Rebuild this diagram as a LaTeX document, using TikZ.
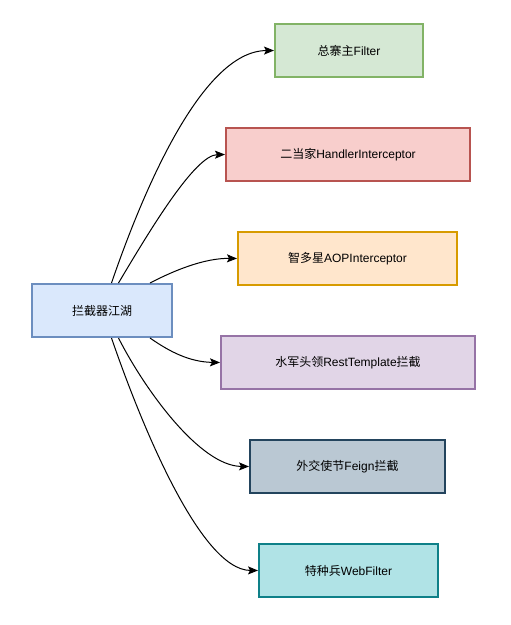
\documentclass[tikz,border=0pt]{standalone}
\usepackage{fontspec}
\setmainfont{Liberation Sans}
\newfontfamily\cjk{Noto Sans CJK SC}
\usetikzlibrary{arrows.meta}
\definecolor{bluef}{HTML}{DAE8FC}\definecolor{blued}{HTML}{6C8EBF}
\definecolor{greenf}{HTML}{D5E8D4}\definecolor{greend}{HTML}{82B366}
\definecolor{redf}{HTML}{F8CECC}\definecolor{redd}{HTML}{B85450}
\definecolor{orangef}{HTML}{FFE6CC}\definecolor{oranged}{HTML}{D79B00}
\definecolor{purplef}{HTML}{E1D5E7}\definecolor{purpled}{HTML}{9673A6}
\definecolor{slatef}{HTML}{BAC8D3}\definecolor{slated}{HTML}{23445D}
\definecolor{tealf}{HTML}{B0E3E6}\definecolor{teald}{HTML}{0E8088}
\begin{document}
\begin{tikzpicture}[x=1pt,y=-1pt,
  box/.style={draw, line width=2pt, minimum height=53pt, inner sep=0pt, font=\fontsize{12}{14}\selectfont},
  conn/.style={line width=1pt, -{Stealth[length=10pt,width=8pt,inset=2pt]}}]
\useasboundingbox (0,0) rectangle (511,625);
\node[box, fill=bluef, draw=blued, minimum width=140pt] (c) at (102,310.5) {{\cjk 拦截器江湖}};
\node[box, fill=greenf, draw=greend, minimum width=148pt] (f) at (349,50.5) {{\cjk 总寨主}Filter};
\node[box, fill=redf, draw=redd, minimum width=244pt] (h) at (348,154.5) {{\cjk 二当家}HandlerInterceptor};
\node[box, fill=orangef, draw=oranged, minimum width=219pt] (a) at (347.5,258.5) {{\cjk 智多星}AOPInterceptor};
\node[box, fill=purplef, draw=purpled, minimum width=254pt] (r) at (348,362.5) {{\cjk 水军头领}RestTemplate{\cjk 拦截}};
\node[box, fill=slatef, draw=slated, minimum width=195pt] (g) at (347.5,466.5) {{\cjk 外交使节}Feign{\cjk 拦截}};
\node[box, fill=tealf, draw=teald, minimum width=179pt] (w) at (348.5,570.5) {{\cjk 特种兵}WebFilter};
\coordinate (t1) at ([xshift=80.5pt]c.north west);
\coordinate (t2) at ([xshift=87.5pt]c.north west);
\coordinate (t3) at ([xshift=119pt]c.north west);
\coordinate (b1) at ([xshift=80.5pt]c.south west);
\coordinate (b2) at ([xshift=87.5pt]c.south west);
\coordinate (b3) at ([xshift=119pt]c.south west);
\draw[conn] (t1) .. controls (140,200) and (200,51) .. (f.west);
\draw[conn] (t2) .. controls (150,230) and (195,155) .. (h.west);
\draw[conn] (t3) .. controls (175,270) and (205,258) .. (a.west);
\draw[conn] (b3) .. controls (170,352) and (190,362) .. (r.west);
\draw[conn] (b2) .. controls (145,390) and (200,466) .. (g.west);
\draw[conn] (b1) .. controls (140,421) and (200,570) .. (w.west);
\end{tikzpicture}
\end{document}
